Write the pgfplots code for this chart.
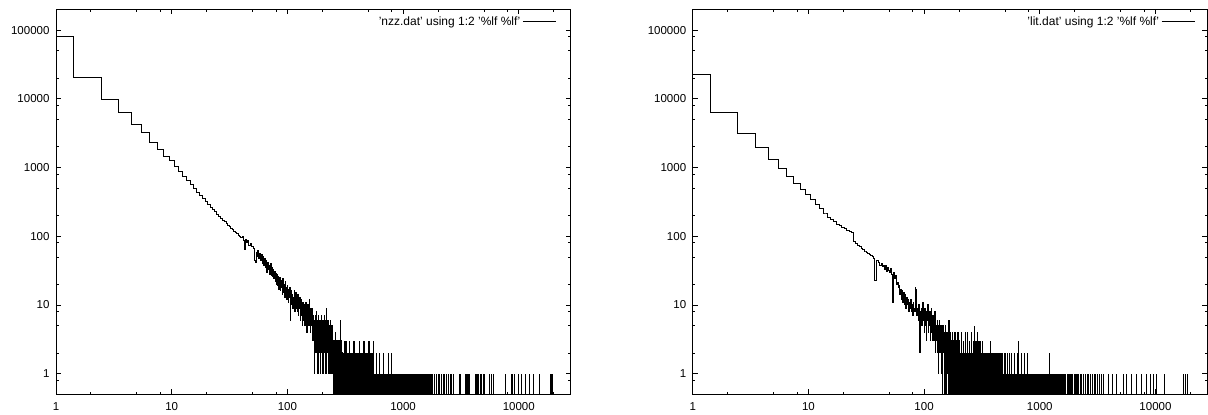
\documentclass[border=0pt]{standalone}
\usepackage{pgfplots}
\pgfplotsset{compat=1.18}
\usepackage{fontspec}
\setmainfont{Liberation Sans}
\begin{document}
\begin{tikzpicture}
\useasboundingbox (0,0) rectangle (1208pt,415pt);
% ---------------- left panel: nzz.dat
\begin{axis}[at={(56pt,20.7pt)}, anchor=south west,
    scale only axis, width=514.5pt, height=384.8pt,
    xmode=log, ymode=log, xmin=1, xmax=28000, ymin=0.5, ymax=200000,
    xtick={1,10,100,1000,10000}, xticklabels={1,10,100,1000,10000},
    ytick={1,10,100,1000,10000,100000}, yticklabels={1,10,100,1000,10000,100000},
    minor xtick={2,5,8,20,50,80,200,500,800,2000,5000,8000,20000},
    minor ytick={0.8,2,5,8,20,50,80,200,500,800,2000,5000,8000,20000,50000,80000},
    tick align=inside, major tick length=5pt, minor tick length=2.7pt,
    tick style={black, line width=0.8pt},
    axis line style={black, line width=1pt},
    tick label style={font=\fontsize{11.5}{13}\selectfont},
    xticklabel style={yshift=-5pt},
    yticklabel style={xshift=-3pt},
    legend plot pos=right, legend cell align=right,
    legend style={draw=none, fill=none, at={(1,1)}, anchor=north east, xshift=-14pt, yshift=-5pt,
      inner sep=0pt, font=\fontsize{12}{14}\selectfont},
    legend image code/.code={\draw[#1] (0pt,0pt) -- (33pt,0pt);},
    log origin y=infty]
\addplot[black, line width=0.9pt, const plot mark mid, mark=none] table[row sep=\\]{x y\\
1 80000\\ 2 20500\\ 3 9900\\ 4 6300\\ 5 4200\\ 6 3200\\ 7 2300\\ 8 1850\\ 9 1450\\ 10 1250\\
11 1036\\ 12 873\\ 13 746\\ 14 645\\ 15 563\\ 16 496\\ 17 440\\ 18 394\\ 19 354\\ 20 320\\
21 292\\ 22 266\\ 23 245\\ 24 226\\ 25 209\\ 26 194\\ 27 182\\ 28 172\\ 29 162\\ 30 153\\
31 145\\ 32 137\\ 33 131\\ 34 124\\ 35 118\\ 36 113\\ 37 108\\ 38 103\\ 39 99\\ 40 95\\
41 100\\ 42 88\\ 43 65\\ 44 90\\ 45 80\\ 46 86\\ 47 74\\ 48 79\\ 49 70\\ 50 72\\
51 66\\ 52 44\\ 53 41\\ 54 58\\ 55 50\\ 56 62\\ 57 47\\ 58 56\\ 59 45\\ 60 54\\
61 40\\ 62 50\\ 63 37\\ 64 47\\ 65 35\\ 66 44\\ 67 30\\ 68 42\\ 69 33\\ 70 38\\
71 28\\ 72 40\\ 73 27\\ 74 35\\ 75 26\\ 76 33\\ 77 24\\ 78 31\\ 79 22\\ 80 29\\
81 20\\ 82 28\\ 83 19\\ 84 26\\ 85 17\\ 86 25\\ 87 16\\ 88 23\\ 89 18\\ 90 21\\
91 14\\ 92 24\\ 93 15\\ 94 20\\ 95 13\\ 96 22\\ 97 14\\ 98 18\\ 99 12\\ 100 19\\
101 15\\ 102 11\\ 103 17\\ 104 13\\ 105 18\\ 106 6\\ 107 14\\ 108 10\\ 109 16\\ 110 12\\
111 14\\ 112 9\\ 113 13\\ 114 11\\ 115 16\\ 116 8\\ 117 12\\ 118 10\\ 119 15\\ 120 9\\
121 11\\ 122 8\\ 123 14\\ 124 10\\ 125 7\\ 126 12\\ 127 9\\ 128 13\\ 129 6\\ 130 11\\
131 9\\ 132 12\\ 133 7\\ 134 10\\ 135 5\\ 136 11\\ 137 8\\ 138 9\\ 139 6\\ 140 10\\
141 8\\ 142 5\\ 143 9\\ 144 7\\ 145 11\\ 146 6\\ 147 8\\ 148 4\\ 149 9\\ 150 7\\
151 10\\ 152 6\\ 153 8\\ 154 5\\ 155 12\\ 156 7\\ 157 9\\ 158 4\\ 159 8\\ 160 6\\
161 7\\ 162 5\\ 163 9\\ 164 3\\ 165 8\\ 166 6\\ 167 4\\ 168 7\\ 169 5\\ 170 3\\
171 6\\ 172 1\\ 173 5\\ 174 7\\ 175 3\\ 176 6\\ 177 2\\ 178 5\\ 179 8\\ 180 4\\
181 6\\ 182 3\\ 183 5\\ 184 1\\ 185 7\\ 186 4\\ 187 6\\ 188 2\\ 189 5\\ 190 3\\
191 6\\ 192 4\\ 193 1\\ 194 5\\ 195 3\\ 196 7\\ 197 2\\ 198 4\\ 199 6\\ 200 1\\
201 5\\ 202 3\\ 203 6\\ 204 2\\ 205 4\\ 206 1\\ 207 5\\ 208 3\\ 209 7\\ 210 2\\
211 4\\ 212 6\\ 213 1\\ 214 3\\ 215 5\\ 216 9\\ 217 2\\ 218 4\\ 219 1\\ 220 6\\
221 3\\ 222 5\\ 223 2\\ 224 4\\ 225 1\\ 226 6\\ 227 3\\ 228 2\\ 229 5\\ 230 1\\
231 4\\ 232 2\\ 233 3\\ 234 6\\ 235 1\\ 236 3\\ 237 2\\ 238 5\\ 239 1\\ 240 3\\
241 2\\ 242 4\\ 243 1\\ 244 3\\ 245 2\\ 246 5\\ 247 1\\ 248 3\\ 249 2\\ 250 1\\
251 3\\ 252 0.1\\ 253 2\\ 254 1\\ 255 3\\ 256 0.1\\ 257 2\\ 258 1\\ 259 4\\ 260 0.1\\
261 2\\ 262 1\\ 263 3\\ 264 0.1\\ 265 2\\ 266 1\\ 267 0.1\\ 268 3\\ 269 1\\ 270 2\\
271 0.1\\ 272 2\\ 273 1\\ 274 3\\ 275 0.1\\ 276 1\\ 277 2\\ 278 0.1\\ 279 3\\ 280 1\\
281 2\\ 282 0.1\\ 283 1\\ 284 3\\ 285 0.1\\ 286 2\\ 287 1\\ 288 0.1\\ 289 6\\ 290 1\\
291 2\\ 292 0.1\\ 293 1\\ 294 3\\ 295 0.1\\ 296 2\\ 297 1\\ 298 0.1\\ 299 2\\ 300 1\\
};
\addlegendentry{'nzz.dat' using 1:2 '\%lf \%lf'}
\addplot[black, line width=1pt, ycomb, mark=none, forget plot] table[row sep=\\]{x y\\
303 2\\ 309 3\\ 315 2\\ 321 2\\ 327 3\\ 333 1\\ 340 2\\ 347 3\\ 354 2\\ 361 2\\
368 1\\ 375 2\\ 383 3\\ 390 2\\ 398 2\\ 406 1\\ 414 2\\ 423 3\\ 431 2\\ 440 2\\
449 1\\ 458 2\\ 467 3\\ 476 2\\ 486 1\\ 495 2\\ 505 2\\ 516 3\\ 526 1\\ 537 2\\
547 2\\ 558 3\\ 570 1\\ 581 1\\ 593 2\\ 605 1\\ 617 1\\ 629 2\\ 642 1\\ 655 1\\
668 1\\ 681 2\\ 695 1\\ 709 1\\ 723 1\\ 737 1\\ 752 2\\ 767 1\\ 783 1\\ 798 2\\
815 1\\ 831 1\\ 848 1\\ 865 1\\ 882 1\\ 900 1\\ 918 1\\ 936 1\\ 955 1\\ 974 1\\
994 1\\ 1014 1\\ 1034 1\\ 1055 1\\ 1076 1\\ 1098 1\\ 1120 1\\ 1142 1\\ 1165 1\\ 1188 1\\
1212 1\\ 1236 1\\ 1261 1\\ 1286 1\\ 1312 1\\ 1338 1\\ 1365 1\\ 1392 1\\ 1420 1\\ 1448 1\\
1477 1\\ 1507 1\\ 1537 1\\ 1568 1\\ 1599 1\\ 1631 1\\ 1664 1\\ 1697 1\\ 1731 1\\ 1766 1\\
1801 1\\ 1870 1\\ 1940 1\\ 2010 1\\ 2084 1\\ 2150 1\\ 2230 1\\ 2300 1\\ 2382 1\\ 2460 1\\
2550 1\\ 2640 1\\ 2718 1\\ 3103 1\\ 3150 1\\ 3430 1\\ 3500 1\\ 3600 1\\ 3700 1\\ 3787 1\\
4185 1\\ 4300 1\\ 4420 1\\ 4520 1\\ 4623 1\\ 4800 1\\ 4950 1\\ 5106 1\\ 5637 1\\ 5800 1\\
6025 1\\ 7707 1\\ 8685 1\\ 8800 1\\ 9276 1\\ 9910 1\\ 10590 1\\ 11320 1\\ 12330 1\\ 13360 1\\
15250 1\\ 18980 1\\ 19200 1\\ 19630 1\\
};
\addplot[black, line width=1pt, ycomb, mark=none, forget plot] table[row sep=\\]{x y\\
306 2\\ 312 2\\ 318 3\\ 324 2\\ 330 2\\ 337 2\\ 343 3\\ 350 2\\ 357 2\\ 364 2\\
371 3\\ 379 2\\ 386 2\\ 394 2\\ 402 2\\ 410 2\\ 418 3\\ 427 2\\ 435 2\\ 444 2\\
453 3\\ 462 2\\ 471 2\\ 481 2\\ 490 2\\ 500 3\\ 510 2\\ 521 2\\ 531 2\\ 542 2\\
552 2\\
};
\end{axis}
% ---------------- right panel: lit.dat
\begin{axis}[at={(692.7pt,20.7pt)}, anchor=south west,
    scale only axis, width=514.5pt, height=384.8pt,
    xmode=log, ymode=log, xmin=1, xmax=28000, ymin=0.5, ymax=200000,
    xtick={1,10,100,1000,10000}, xticklabels={1,10,100,1000,10000},
    ytick={1,10,100,1000,10000,100000}, yticklabels={1,10,100,1000,10000,100000},
    minor xtick={2,5,8,20,50,80,200,500,800,2000,5000,8000,20000},
    minor ytick={0.8,2,5,8,20,50,80,200,500,800,2000,5000,8000,20000,50000,80000},
    tick align=inside, major tick length=5pt, minor tick length=2.7pt,
    tick style={black, line width=0.8pt},
    axis line style={black, line width=1pt},
    tick label style={font=\fontsize{11.5}{13}\selectfont},
    xticklabel style={yshift=-5pt},
    yticklabel style={xshift=-3pt},
    legend plot pos=right, legend cell align=right,
    legend style={draw=none, fill=none, at={(1,1)}, anchor=north east, xshift=-12pt, yshift=-5pt,
      inner sep=0pt, font=\fontsize{12}{14}\selectfont},
    legend image code/.code={\draw[#1] (0pt,0pt) -- (33pt,0pt);},
    log origin y=infty]
\addplot[black, line width=0.9pt, const plot mark mid, mark=none] table[row sep=\\]{x y\\
1 23000\\ 2 6400\\ 3 3150\\ 4 1930\\ 5 1320\\ 6 970\\ 7 750\\ 8 595\\ 9 487\\ 10 400\\
11 340\\ 12 295\\ 13 255\\ 14 218\\ 15 188\\ 16 175\\ 17 162\\ 18 151\\ 19 142\\ 20 134\\
21 128\\ 22 123\\ 23 118\\ 24 114\\ 25 84\\ 26 78\\ 27 74\\ 28 70\\ 29 67\\ 30 64\\
31 61\\ 32 58\\ 33 57\\ 34 55\\ 35 53\\ 36 51\\ 37 48\\ 38 23\\ 39 45\\ 40 44\\
41 42\\ 42 38\\ 43 40\\ 44 36\\ 45 38\\ 46 33\\ 47 37\\ 48 31\\ 49 35\\ 50 32\\
51 30\\ 52 34\\ 53 28\\ 54 11\\ 55 30\\ 56 24\\ 57 27\\ 58 20\\ 59 21\\ 60 18\\
61 19\\ 62 14\\ 63 17\\ 64 12\\ 65 16\\ 66 11\\ 67 15\\ 68 10\\ 69 14\\ 70 9\\
71 13\\ 72 10\\ 73 12\\ 74 8\\ 75 11\\ 76 9\\ 77 12\\ 78 8\\ 79 10\\ 80 7\\
81 11\\ 82 8\\ 83 9\\ 84 18\\ 85 8\\ 86 17\\ 87 7\\ 88 9\\ 89 6\\ 90 10\\
91 5\\ 92 2\\ 93 8\\ 94 6\\ 95 9\\ 96 5\\ 97 7\\ 98 11\\ 99 6\\ 100 8\\
101 4\\ 102 9\\ 103 5\\ 104 7\\ 105 3\\ 106 8\\ 107 6\\ 108 10\\ 109 4\\ 110 7\\
111 5\\ 112 8\\ 113 3\\ 114 6\\ 115 4\\ 116 9\\ 117 5\\ 118 3\\ 119 7\\ 120 4\\
121 6\\ 122 3\\ 123 5\\ 124 8\\ 125 2\\ 126 6\\ 127 4\\ 128 5\\ 129 3\\ 130 6\\
131 2\\ 132 5\\ 133 1\\ 134 4\\ 135 3\\ 136 6\\ 137 2\\ 138 4\\ 139 3\\ 140 5\\
141 1\\ 142 4\\ 143 2\\ 144 3\\ 145 0.1\\ 146 5\\ 147 2\\ 148 3\\ 149 1\\ 150 4\\
151 0.1\\ 152 3\\ 153 2\\ 154 5\\ 155 1\\ 156 3\\ 157 0.1\\ 158 4\\ 159 2\\ 160 1\\
161 3\\ 162 0.1\\ 163 2\\ 164 6\\ 165 1\\ 166 3\\ 167 0.1\\ 168 2\\ 169 4\\ 170 1\\
171 2\\ 172 0.1\\ 173 3\\ 174 1\\ 175 4\\ 176 0.1\\ 177 2\\ 178 3\\ 179 1\\ 180 0.1\\
181 3\\ 182 1\\ 183 2\\ 184 0.1\\ 185 4\\ 186 1\\ 187 2\\ 188 0.1\\ 189 3\\ 190 2\\
191 1\\ 192 0.1\\ 193 3\\ 194 2\\ 195 0.1\\ 196 4\\ 197 1\\ 198 2\\ 199 0.1\\ 200 3\\
};
\addlegendentry{'lit.dat' using 1:2 '\%lf \%lf'}
\addplot[black, line width=1pt, ycomb, mark=none, forget plot] table[row sep=\\]{x y\\
204 3\\ 208 2\\ 212 4\\ 216 2\\ 221 3\\ 225 1\\ 230 3\\ 234 2\\ 239 4\\ 244 2\\
249 3\\ 254 2\\ 259 3\\ 264 2\\ 269 3\\ 275 5\\ 280 2\\ 286 3\\ 292 2\\ 297 3\\
303 2\\ 309 3\\ 316 2\\ 322 2\\ 328 1\\ 335 2\\ 342 2\\ 348 1\\ 355 2\\ 362 2\\
370 2\\ 377 3\\ 385 2\\ 392 1\\ 400 2\\ 408 2\\ 416 1\\ 425 2\\ 433 2\\ 442 1\\
451 2\\ 460 2\\ 469 1\\ 478 2\\ 488 1\\ 498 2\\ 508 2\\ 518 1\\ 528 2\\ 539 1\\
550 2\\ 561 1\\ 572 2\\ 583 1\\ 595 1\\ 607 2\\ 619 1\\ 632 1\\ 644 2\\ 657 3\\
670 1\\ 684 1\\ 697 2\\ 711 1\\ 726 1\\ 740 2\\ 755 1\\ 770 1\\ 786 2\\ 801 1\\
817 1\\ 834 1\\ 850 1\\ 867 1\\ 885 1\\ 903 1\\ 921 1\\ 939 1\\ 958 1\\ 977 1\\
997 1\\ 1017 1\\ 1037 1\\ 1058 1\\ 1079 1\\ 1101 1\\ 1123 1\\ 1145 1\\ 1168 1\\ 1192 1\\
1225 2\\ 1240 1\\ 1265 1\\ 1290 1\\ 1315 1\\ 1340 1\\ 1365 1\\ 1390 1\\ 1420 1\\ 1450 1\\
1480 1\\ 1510 1\\ 1540 1\\ 1570 1\\ 1600 1\\ 1640 1\\ 1680 1\\ 1720 1\\ 1760 1\\ 1800 1\\
1840 1\\ 1880 1\\ 1930 1\\ 1980 1\\ 2030 1\\ 2080 1\\ 2130 1\\ 2180 1\\ 2230 1\\ 2310 1\\
2400 1\\ 2480 1\\ 2570 1\\ 2660 1\\ 2760 1\\ 2850 1\\ 2950 1\\ 3060 1\\ 3180 1\\ 3300 1\\
3420 1\\ 3540 1\\ 3910 1\\ 4270 1\\ 4620 1\\ 5270 1\\ 5640 1\\ 6230 1\\ 6880 1\\ 7600 1\\
8400 1\\ 8970 1\\ 9580 1\\ 10240 1\\ 12080 1\\ 17380 1\\ 18360 1\\ 18970 1\\
};
\addplot[black, line width=1pt, ycomb, mark=none, forget plot] table[row sep=\\]{x y\\
206 2\\ 210 3\\ 214 2\\ 218 3\\ 223 2\\ 227 4\\ 232 2\\ 236 3\\ 241 2\\ 246 3\\
251 2\\ 256 4\\ 261 2\\ 266 3\\ 272 2\\ 277 3\\ 283 2\\ 289 4\\ 294 2\\ 300 3\\
306 2\\ 312 2\\ 319 3\\ 325 2\\ 331 2\\ 338 2\\ 345 2\\ 351 2\\ 358 2\\ 366 2\\
373 2\\ 381 2\\ 388 2\\ 396 2\\ 404 2\\ 412 2\\ 420 2\\ 429 2\\ 437 2\\ 446 2\\
455 2\\ 464 2\\ 473 2\\
};
\end{axis}
\end{tikzpicture}
\end{document}
